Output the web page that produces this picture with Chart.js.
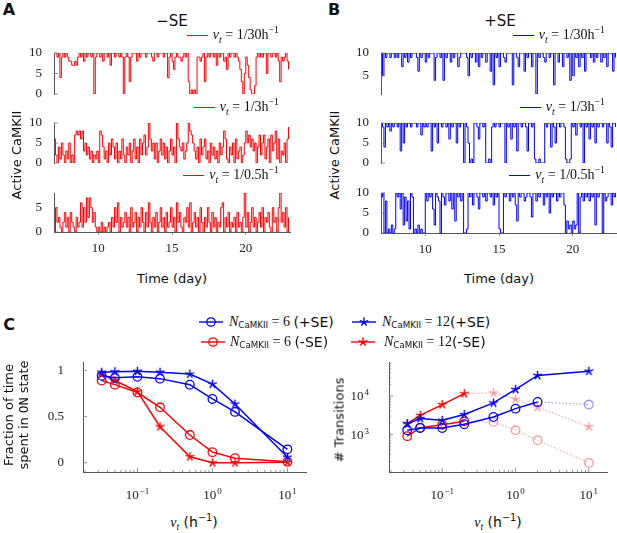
<!DOCTYPE html>
<html>
<head>
<meta charset="utf-8">
<script src="https://cdn.jsdelivr.net/npm/chart.js@4.4.1/dist/chart.umd.min.js"></script>
<style>
  html, body { margin: 0; padding: 0; width: 617px; height: 533px; overflow: hidden; background: #fff; }
  canvas { position: absolute; }
  .lbl { position: absolute; white-space: nowrap; font-family: "DejaVu Sans", sans-serif; font-size: 13px; color: #111;
         transform: translate(-50%, -50%); }
  .rot { transform: translate(-50%, -50%) rotate(-90deg); }
  .letter { font-weight: bold; font-size: 16px; }
  .serif { font-family: "Liberation Serif", serif; }
  .mono { font-family: "DejaVu Sans Mono", monospace; }
  sub, sup { font-size: 70%; line-height: 0; }
  .leg { position: absolute; height: 16px; display: flex; align-items: center; gap: 5px;
         font-family: "Liberation Serif", serif; font-size: 14px; color: #111; white-space: nowrap; }
  .leg .sw { display: inline-block; width: 21px; height: 1px; }
  .cleg { position: absolute; height: 16px; display: flex; align-items: center; white-space: nowrap;
          font-family: "Liberation Serif", serif; font-size: 14px; color: #111; transform: translateY(-50%); }
  .cleg .ss { font-family: "DejaVu Sans", sans-serif; }
  .cleg sub { font-family: "DejaVu Sans", sans-serif; font-size: 62%; position: relative; top: 3px; }
  .csw { position: absolute; transform: translateY(-50%); }
</style>
</head>
<body>

<!-- panel A / B traces -->
<canvas id="a30" width="280" height="67" style="left:20px;top:40px"></canvas>
<canvas id="a3" width="280" height="66" style="left:20px;top:110px"></canvas>
<canvas id="a05" width="280" height="82" style="left:20px;top:180px"></canvas>
<canvas id="b30" width="280" height="67" style="left:347px;top:40px"></canvas>
<canvas id="b3" width="280" height="66" style="left:347px;top:110px"></canvas>
<canvas id="b05" width="280" height="83" style="left:347px;top:180px"></canvas>

<!-- panel C -->
<canvas id="cFrac" width="283" height="160" style="left:33px;top:342px"></canvas>
<canvas id="cTrans" width="278" height="148" style="left:339px;top:354px"></canvas>

<div class="lbl letter" style="left:9px;top:9px">A</div>
<div class="lbl letter" style="left:334px;top:9px">B</div>
<div class="lbl letter" style="left:9px;top:324px">C</div>

<div class="lbl" style="left:172px;top:21px;font-size:15px">−SE</div>
<div class="lbl" style="left:500px;top:21px;font-size:15px">+SE</div>

<div class="lbl rot" style="left:16px;top:155px">Active CaMKII</div>
<div class="lbl rot" style="left:334px;top:155px">Active CaMKII</div>
<div class="lbl" style="left:172px;top:278px">Time (day)</div>
<div class="lbl" style="left:499px;top:278px">Time (day)</div>

<div class="leg" style="right:338px;top:27px"><span class="sw" style="background:#f00"></span><span><i>v<sub>t</sub></i> = 1/30h<sup>−1</sup></span></div>
<div class="leg" style="right:338px;top:99px"><span class="sw" style="background:#f00"></span><span><i>v<sub>t</sub></i> = 1/3h<sup>−1</sup></span></div>
<div class="leg" style="right:338px;top:167px"><span class="sw" style="background:#f00"></span><span><i>v<sub>t</sub></i> = 1/0.5h<sup>−1</sup></span></div>
<div class="leg" style="right:12px;top:27px"><span class="sw" style="background:#00f"></span><span><i>v<sub>t</sub></i> = 1/30h<sup>−1</sup></span></div>
<div class="leg" style="right:12px;top:99px"><span class="sw" style="background:#00f"></span><span><i>v<sub>t</sub></i> = 1/3h<sup>−1</sup></span></div>
<div class="leg" style="right:12px;top:167px"><span class="sw" style="background:#00f"></span><span><i>v<sub>t</sub></i> = 1/0.5h<sup>−1</sup></span></div>

<!-- panel C legend -->
<svg class="csw" style="left:199px;top:322px" width="24" height="12"><line x1="0" y1="6" x2="24" y2="6" stroke="#00f" stroke-width="1.4"/><circle cx="12" cy="6" r="4.2" fill="none" stroke="#00f" stroke-width="1.3"/></svg>
<div class="cleg" style="left:229px;top:322px"><i>N</i><sub>CaMKII</sub>&nbsp;= 6&nbsp;<span class="ss">(+SE)</span></div>
<svg class="csw" style="left:352px;top:322px" width="24" height="12"><line x1="0" y1="6" x2="24" y2="6" stroke="#00f" stroke-width="1.4"/><path d="M12 6L12 1.5M12 6L16.3 4.6M12 6L14.6 9.6M12 6L9.4 9.6M12 6L7.7 4.6" stroke="#00f" stroke-width="1.4" fill="none"/></svg>
<div class="cleg" style="left:382px;top:322px"><i>N</i><sub>CaMKII</sub>&nbsp;= 12<span class="ss">(+SE)</span></div>
<svg class="csw" style="left:201px;top:342px" width="24" height="12"><line x1="0" y1="6" x2="24" y2="6" stroke="#f00" stroke-width="1.4"/><circle cx="12" cy="6" r="4.2" fill="none" stroke="#f00" stroke-width="1.3"/></svg>
<div class="cleg" style="left:230px;top:342px"><i>N</i><sub>CaMKII</sub>&nbsp;= 6&nbsp;<span class="ss">(-SE)</span></div>
<svg class="csw" style="left:351px;top:342px" width="24" height="12"><line x1="0" y1="6" x2="24" y2="6" stroke="#f00" stroke-width="1.4"/><path d="M12 6L12 1.5M12 6L16.3 4.6M12 6L14.6 9.6M12 6L9.4 9.6M12 6L7.7 4.6" stroke="#f00" stroke-width="1.4" fill="none"/></svg>
<div class="cleg" style="left:384px;top:342px"><i>N</i><sub>CaMKII</sub>&nbsp;= 12<span class="ss">(-SE)</span></div>

<div class="lbl rot" style="left:16px;top:415px;line-height:15px;text-align:center">Fraction of time<br>spent in <span class="mono">ON</span> state</div>
<div class="lbl rot" style="left:339px;top:420px">#&nbsp;Transitions</div>
<div class="lbl" style="left:194px;top:522px;font-size:14px"><i class="serif">v<sub>t</sub></i>&nbsp;(h<sup>−1</sup>)</div>
<div class="lbl" style="left:498px;top:522px;font-size:14px"><i class="serif">v<sub>t</sub></i>&nbsp;(h<sup>−1</sup>)</div>

<script>
// ---- time traces: active CaMKII count, one sample every 0.1 day from day 7 ----
const traceStart = 7;
const traceStep = 0.1;
const dayTicks = [10, 15, 20];

// -SE
const traceA30 = [
  10,10,9,10,4,9,10,9,10,9,  8,8,7,7,8,7,9,10,9,10,  8,10,9,10,10,9,10,0,9,10,  10,9,10,8,10,10,9,10,7,10,
  10,9,10,10,9,10,9,0,9,10,  9,3,9,10,10,10,8,10,9,10,  10,10,9,10,10,10,9,8,10,10,  9,10,10,10,9,10,10,4,9,10,
  8,6,9,10,9,9,8,9,10,9,  10,3,0,1,0,1,0,9,9,8,  9,10,3,9,10,9,10,10,9,10,  7,10,9,10,10,8,9,6,10,9,
  10,10,9,10,9,8,6,3,0,5,  9,7,4,1,0,0,2,9,10,9,  10,9,10,10,5,10,10,9,10,10,  9,10,8,3,9,8,9,10,8,6
];
const traceA3 = [
  6,2,0,4,1,5,2,0,3,1,  5,0,2,0,7,8,7,8,6,8,  3,5,2,4,1,3,0,2,1,3,  0,8,7,4,1,3,0,5,2,6,
  4,1,5,0,3,1,6,2,0,4,  2,5,0,3,6,1,4,0,6,2,  5,7,2,4,10,6,3,5,1,5,  0,3,6,2,5,1,4,0,3,6,
  2,4,0,10,6,4,3,5,1,3,  5,10,8,7,5,3,1,4,0,6,  2,4,6,1,3,0,5,2,4,1,  3,0,5,2,4,8,6,1,0,4,
  2,5,0,6,1,3,4,0,2,5,  8,5,7,4,6,3,5,0,4,7,  2,5,7,1,4,6,0,7,3,5,  8,1,6,0,3,2,5,0,6,9
];
const traceA05 = [
  0,5,2,3,1,0,2,4,1,3,  0,4,2,1,0,3,1,2,6,1,  5,2,7,3,7,5,2,4,1,0,  1,0,2,0,1,0,1,2,0,3,
  1,5,2,6,0,3,1,2,4,1,  3,0,5,1,2,4,0,3,1,5,  2,0,4,1,6,2,0,3,1,4,  0,2,5,1,3,0,4,1,2,5,
  1,3,0,6,2,4,1,0,3,2,  5,1,6,0,2,4,1,3,0,5,  2,0,3,1,5,2,0,4,1,3,  0,2,1,5,6,0,3,1,4,0,
  2,1,3,0,4,1,2,0,3,8,  1,4,0,2,5,1,3,0,2,4,  1,5,0,3,2,4,1,0,5,2,  3,0,5,8,2,4,1,5,0,3
];
// +SE
const traceB30 = [
  10,5,10,9,10,10,9,10,10,9,  10,9,10,10,7,10,9,10,8,10,  9,10,10,10,9,6,10,9,10,10,  8,10,9,10,10,10,4,9,10,10,
  9,10,4,10,9,10,10,8,10,9,  10,10,7,9,10,10,10,10,9,5,  10,9,10,10,8,10,7,10,9,10,  10,8,10,10,6,10,3,10,9,10,
  7,10,10,9,8,10,10,10,10,3,  10,10,9,7,10,10,10,6,10,9,  10,10,7,10,10,1,10,9,10,10,  9,8,10,10,9,10,10,3,10,10,
  8,10,10,7,10,10,9,10,4,10,  5,10,9,10,7,10,9,10,6,10,  10,10,9,10,8,10,9,10,10,8,  10,9,10,7,10,10,10,6,10,9
];
const traceB3 = [
  10,9,4,10,9,10,8,10,9,10,  10,9,10,3,10,5,10,9,10,10,  9,10,10,10,9,10,10,7,10,9,  10,9,10,10,3,10,9,10,5,10,
  10,9,10,10,9,10,6,10,9,10,  10,5,10,9,10,10,0,10,9,5,  0,1,0,10,10,9,6,10,10,9,  10,0,0,1,0,9,10,9,10,10,
  9,10,10,10,0,10,9,10,6,10,  9,10,3,10,10,9,10,10,9,3,  10,10,9,10,1,0,0,1,0,0,  0,10,9,10,10,4,10,9,5,10,
  10,9,10,10,9,1,0,0,1,10,  9,10,7,10,10,9,10,0,10,9,  10,6,10,9,10,5,10,9,10,10,  9,10,10,5,10,9,4,10,10,9
];
const traceB05 = [
  9,10,0,8,0,1,0,2,0,1,  10,9,10,6,10,2,9,3,8,1,  10,9,0,1,0,2,0,1,0,0,  10,8,10,9,10,6,2,10,9,8,
  0,10,9,7,10,10,8,10,6,10,  3,10,9,10,8,10,0,0,1,10,  9,10,7,10,10,9,6,10,10,9,  10,8,10,10,9,10,7,10,9,10,
  1,0,0,10,9,10,10,8,10,9,  10,7,3,10,9,10,10,8,9,10,  10,9,4,10,10,8,10,9,10,10,  7,10,9,10,5,10,9,10,10,8,
  10,9,10,10,7,0,3,1,2,0,  3,1,2,10,0,9,10,8,10,9,  10,8,10,9,10,2,10,9,10,10,  0,10,8,9,10,10,7,10,9,10
];

// ---- panel C: turnover rate v_t (h^-1) ----
const rates = [1/30, 1/20, 1/10, 1/5, 1/2, 1, 2, 10];
const fracN6plus  = [0.94, 0.92, 0.93, 0.91, 0.845, 0.69, 0.55, 0.145];
const fracN12plus = [0.98, 0.985, 0.99, 0.98, 0.96, 0.85, 0.635, 0.06];
const fracN6minus = [0.89, 0.845, 0.76, 0.60, 0.30, 0.115, 0.05, 0.01];
const fracN12minus = [0.96, 0.89, 0.77, 0.39, 0.065, 0.0, 0.0, 0.005];
const transN6plus  = [1290, 1480, 1480, 1850, 2850, 4700, 7000, 6000];
const transN12plus = [1900, 2600, 2340, 3300, 6600, 14800, 34000, 44000];
const transN6minus = [910, 1500, 1800, 2200, 2130, 1290, 710, 185];
const transN12minus = [1920, 3150, 5970, 11500, 12000, 8300, 5100, 1600];
const fracTicks = [0, 0.5, 1];
const fracTickLabels = ['0', '0.5', '1'];
const rateExponents = [-1, 0, 1];
const transExponents = [3, 4];

Chart.defaults.font.family = "'Liberation Serif', serif";
Chart.defaults.font.size = 13;
Chart.defaults.color = '#222';

// inward tick marks + 10^n labels
const axisMarks = {
  id: 'axisMarks',
  afterDraw(chart, args, opts) {
    const ctx = chart.ctx;
    ctx.save();
    ['x', 'y'].forEach(id => {
      const spec = opts[id];
      if (!spec) return;
      const scale = chart.scales[id];
      const marks = [];
      if (spec.log) {
        const lo = Math.floor(Math.log10(scale.min)), hi = Math.ceil(Math.log10(scale.max));
        for (let k = lo; k <= hi; k++) {
          for (let m = 1; m < 10; m++) {
            const v = m * Math.pow(10, k);
            if (v >= scale.min && v <= scale.max) marks.push({ v: v, major: m === 1 });
          }
        }
      } else {
        spec.values.forEach(v => marks.push({ v: v, major: true }));
      }
      ctx.strokeStyle = '#777';
      ctx.lineWidth = 0.8;
      marks.forEach(mk => {
        const p = scale.getPixelForValue(mk.v);
        const len = mk.major ? 4 : 2;
        ctx.beginPath();
        if (scale.isHorizontal()) {
          ctx.moveTo(p, scale.top);
          ctx.lineTo(p, scale.top - len);
        } else {
          ctx.moveTo(scale.right, p);
          ctx.lineTo(scale.right + len, p);
        }
        ctx.stroke();
      });
      if (spec.pow) {
        ctx.fillStyle = '#222';
        ctx.textBaseline = 'alphabetic';
        ctx.textAlign = 'left';
        spec.pow.forEach(e => {
          const p = scale.getPixelForValue(Math.pow(10, e));
          const ex = e < 0 ? '\u2212' + (-e) : String(e);
          ctx.font = "13px 'Liberation Serif'";
          const wb = ctx.measureText('10').width;
          ctx.font = "9px 'Liberation Serif'";
          const we = ctx.measureText(ex).width;
          let x0, y0;
          if (scale.isHorizontal()) {
            x0 = p - (wb + we + 1) / 2;
            y0 = scale.top + 27;
          } else {
            x0 = scale.right - spec.gap - (wb + we + 1);
            y0 = p + 4.5;
          }
          ctx.font = "13px 'Liberation Serif'";
          ctx.fillText('10', x0, y0);
          ctx.font = "9px 'Liberation Serif'";
          ctx.fillText(ex, x0 + wb + 1, y0 - 5.5);
        });
      }
    });
    ctx.restore();
  }
};
Chart.register(axisMarks);

function tracePoints(values) {
  return values.map((v, i) => ({ x: traceStart + i * traceStep, y: v }));
}

// padding 13 = half a tick label + the tick padding Chart.js reserves
function traceChart(id, values, color, yMin, yMax, yTicks, showX) {
  new Chart(document.getElementById(id), {
    type: 'line',
    data: {
      datasets: [{
        data: tracePoints(values),
        borderColor: color,
        borderWidth: 1,
        pointRadius: 0,
        stepped: true,
        fill: false
      }]
    },
    options: {
      responsive: false,
      animation: false,
      events: [],
      layout: { padding: { top: 13, right: 10, bottom: showX ? 0 : 13, left: 0 } },
      plugins: {
        legend: { display: false },
        tooltip: { enabled: false },
        axisMarks: { y: { values: yTicks } }
      },
      scales: {
        x: {
          type: 'linear', min: 7, max: 23, display: showX,
          border: { display: true, color: '#555' },
          grid: { display: true, drawOnChartArea: false, tickLength: 3, color: '#999' },
          ticks: { padding: 6 },
          afterBuildTicks: s => { s.ticks = dayTicks.map(v => ({ value: v })); },
          afterFit: s => { s.height = showX ? 30 : 0; }
        },
        y: {
          min: yMin, max: yMax,
          border: { display: true, color: '#555' },
          grid: { display: false },
          ticks: { padding: 4 },
          afterBuildTicks: s => { s.ticks = yTicks.map(v => ({ value: v })); },
          afterFit: s => { s.width = 34; }
        }
      }
    }
  });
}

traceChart('a30', traceA30, '#ff0000', 0, 10, [0, 5, 10], false);
traceChart('a3', traceA3, '#ff0000', 0, 10, [0, 5, 10], false);
traceChart('a05', traceA05, '#ff0000', 0, 8, [0, 5], true);
traceChart('b30', traceB30, '#0000ff', 1, 10, [5, 10], false);
traceChart('b3', traceB3, '#0000ff', 0, 10, [0, 5, 10], false);
traceChart('b05', traceB05, '#0000ff', 0, 10, [0, 5, 10], true);

// 5-spoke star marker
function starMark(color) {
  const c = document.createElement('canvas');
  c.width = 11; c.height = 11;
  const g = c.getContext('2d');
  g.strokeStyle = color;
  g.lineWidth = 1.4;
  g.beginPath();
  for (let k = 0; k < 5; k++) {
    const a = -Math.PI / 2 + k * 2 * Math.PI / 5;
    g.moveTo(5.5, 5.5);
    g.lineTo(5.5 + 4.6 * Math.cos(a), 5.5 + 4.6 * Math.sin(a));
  }
  g.stroke();
  return c;
}

const BLUE = '#0000ff', RED = '#ff0000';
const BLUE_F = 'rgba(90,90,255,0.65)', RED_F = 'rgba(255,90,90,0.6)';

function series(values, color, faded, marker, dashFrom) {
  const isFaded = i => dashFrom !== null && i > dashFrom;
  const star = starMark(color), starF = starMark(faded);
  return {
    data: rates.map((r, i) => ({ x: r, y: values[i] })),
    borderColor: color,
    borderWidth: 1.5,
    pointRadius: 4.3,
    pointBorderWidth: 1.3,
    pointBackgroundColor: 'rgba(0,0,0,0)',
    pointBorderColor: values.map((v, i) => isFaded(i) ? faded : color),
    pointStyle: marker === 'star' ? values.map((v, i) => isFaded(i) ? starF : star) : 'circle',
    clip: false,
    segment: {
      borderColor: c => (dashFrom !== null && c.p0DataIndex >= dashFrom) ? faded : undefined,
      borderDash: c => (dashFrom !== null && c.p0DataIndex >= dashFrom) ? [1.5, 2] : undefined,
      borderWidth: c => (dashFrom !== null && c.p0DataIndex >= dashFrom) ? 1 : undefined
    }
  };
}

function rateChart(id, datasets, yScale, marks, padTop) {
  new Chart(document.getElementById(id), {
    type: 'line',
    data: { datasets: datasets },
    options: {
      responsive: false,
      animation: false,
      events: [],
      layout: { padding: { top: padTop, right: 10, bottom: 0, left: 0 } },
      plugins: { legend: { display: false }, tooltip: { enabled: false }, axisMarks: marks },
      scales: {
        x: {
          type: 'logarithmic', min: 0.0188, max: 17.7,
          border: { display: true, color: '#555' },
          grid: { display: false },
          ticks: { display: false },
          afterFit: s => { s.height = 30; }
        },
        y: yScale
      }
    }
  });
}

rateChart('cFrac', [
  series(fracN6plus, BLUE, BLUE_F, 'circle', null),
  series(fracN12plus, BLUE, BLUE_F, 'star', null),
  series(fracN6minus, RED, RED_F, 'circle', null),
  series(fracN12minus, RED, RED_F, 'star', null)
], {
  type: 'linear', min: -0.1, max: 1.09,
  border: { display: true, color: '#555' },
  grid: { display: false },
  ticks: { padding: 11, autoSkip: false, callback: (v, i) => fracTickLabels[i] },
  afterBuildTicks: s => { s.ticks = fracTicks.map(v => ({ value: v })); },
  afterFit: s => { s.width = 50; }
}, { x: { log: true, pow: rateExponents }, y: { values: fracTicks } }, 20);

rateChart('cTrans', [
  series(transN6plus, BLUE, BLUE_F, 'circle', 6),
  series(transN12plus, BLUE, BLUE_F, 'star', null),
  series(transN6minus, RED, RED_F, 'circle', 3),
  series(transN12minus, RED, RED_F, 'star', 3)
], {
  type: 'logarithmic', min: 107, max: 76000,
  border: { display: true, color: '#555' },
  grid: { display: false },
  ticks: { display: false },
  afterFit: s => { s.width = 50; }
}, { x: { log: true, pow: rateExponents }, y: { log: true, pow: transExponents, gap: 20 } }, 8);
</script>
</body>
</html>
